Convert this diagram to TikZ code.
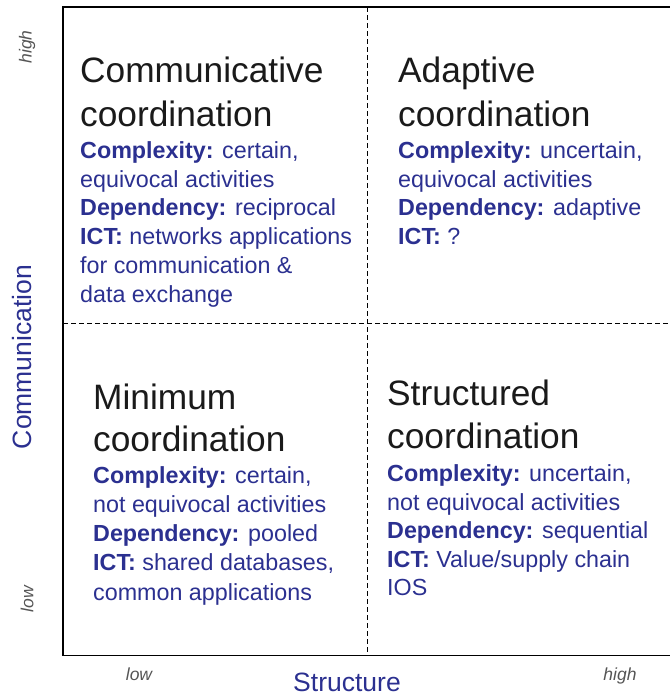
\documentclass[tikz,border=0pt]{standalone}
\usepackage{fontspec}
\setmainfont{Liberation Sans}
\definecolor{infoblue}{RGB}{43,48,144}
\definecolor{titlecol}{RGB}{26,26,26}
\definecolor{scalegray}{RGB}{85,85,85}
\newcommand{\titlefont}{\fontsize{35.3}{43}\selectfont}
\newcommand{\infofont}{\fontsize{23.3}{29}\selectfont}
\newcommand{\axisfont}{\fontsize{26.5}{30}\selectfont}
\newcommand{\scalefont}{\fontsize{17.5}{20}\selectfont\itshape}
\begin{document}
\begin{tikzpicture}[x=1pt,y=-1pt,
  frame/.style={line width=1.4pt,black},
  divider/.style={line width=1pt,black,dash pattern=on 5pt off 3pt},
  title/.style={anchor=base west,inner sep=0pt,font=\titlefont,text=titlecol},
  info/.style={anchor=base west,inner sep=0pt,font=\infofont,text=infoblue},
  axislabel/.style={inner sep=0pt,font=\axisfont,text=infoblue},
  scalelabel/.style={inner sep=0pt,font=\scalefont,text=scalegray}]
\useasboundingbox (0,0) rectangle (670,697);

% axes frame and quadrant dividers
\coordinate (tl) at (63,7);
\coordinate (tr) at (670,7);
\coordinate (bl) at (63,655.5);
\coordinate (br) at (670,655.5);
\coordinate (vtop) at (367,7);
\coordinate (vbot) at (367,655.5);
\coordinate (hleft) at (63,323);
\coordinate (hright) at (670,323);
\draw[frame] (tr) -- (tl) -- (bl) -- (br);
\draw[divider] (vtop) -- (vbot);
\draw[divider] (hleft) -- (hright);

% top left quadrant
\node[title] (c1) at (80,82) {Communicative};
\node[title] (c2) at (80,126) {coordination};
\node[info] (c3) at (80,158) {\textbf{Complexity:} certain,};
\node[info] (c4) at (80,187) {equivocal activities};
\node[info] (c5) at (80,215.5) {\textbf{Dependency:} reciprocal};
\node[info] (c6) at (80,244.5) {\textbf{ICT:} networks applications};
\node[info] (c7) at (80,273) {for communication \&};
\node[info] (c8) at (80,302) {data exchange};

% top right quadrant
\node[title] (a1) at (398,82) {Adaptive};
\node[title] (a2) at (398,126) {coordination};
\node[info] (a3) at (398,158) {\textbf{Complexity:} uncertain,};
\node[info] (a4) at (398,187) {equivocal activities};
\node[info] (a5) at (398,215.5) {\textbf{Dependency:} adaptive};
\node[info] (a6) at (398,244.5) {\textbf{ICT:} ?};

% bottom left quadrant
\node[title] (m1) at (93,409) {Minimum};
\node[title] (m2) at (93,451) {coordination};
\node[info] (m3) at (93,483) {\textbf{Complexity:} certain,};
\node[info] (m4) at (93,512.5) {not equivocal activities};
\node[info] (m5) at (93,541.5) {\textbf{Dependency:} pooled};
\node[info] (m6) at (93,570.5) {\textbf{ICT:} shared databases,};
\node[info] (m7) at (93,600) {common applications};

% bottom right quadrant
\node[title] (s1) at (387,405) {Structured};
\node[title] (s2) at (387,448) {coordination};
\node[info] (s3) at (387,481.5) {\textbf{Complexity:} uncertain,};
\node[info] (s4) at (387,510) {not equivocal activities};
\node[info] (s5) at (387,538.5) {\textbf{Dependency:} sequential};
\node[info] (s6) at (387,567) {\textbf{ICT:} Value/supply chain};
\node[info] (s7) at (387,595.5) {IOS};

% axis titles and scale ends
\node[axislabel,rotate=90] (yaxis) at (22,357) {Communication};
\node[axislabel] (xaxis) at (347,682.5) {Structure};
\node[scalelabel,rotate=90] (yhigh) at (27,47) {high};
\node[scalelabel,rotate=90] (ylow) at (27,599) {low};
\node[scalelabel] (xlow) at (139,674) {low};
\node[scalelabel] (xhigh) at (620,676) {high};
\end{tikzpicture}
\end{document}
